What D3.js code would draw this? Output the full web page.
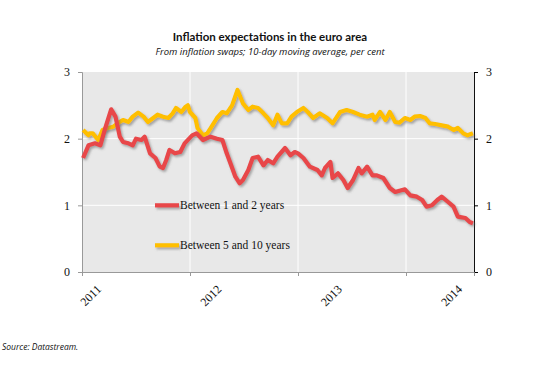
<!DOCTYPE html>
<html>
<head>
<meta charset="utf-8">
<script src="https://cdn.jsdelivr.net/npm/d3@7"></script>
<style>
  body { margin: 0; background: #fff; }
  svg { display: block; }
  .title { font-family: Lato, "Open Sans", sans-serif; font-weight: bold; font-size: 11.5px; fill: #111; }
  .subtitle { font-family: "Open Sans", "Liberation Sans", sans-serif; font-style: italic; font-size: 9.5px; fill: #111; }
  .tick-lbl { font-family: "Liberation Serif", "DejaVu Serif", serif; font-size: 12px; fill: #111; }
  .legend { font-family: "Liberation Serif", "DejaVu Serif", serif; font-size: 11.5px; fill: #111; }
  .source { font-family: "Open Sans", "Liberation Sans", sans-serif; font-style: italic; font-size: 8.5px; fill: #111; }
</style>
</head>
<body>
<div id="chart"></div>
<script>
// 数据：十进制年份与百分比
const seriesNames = ["Between 1 and 2 years", "Between 5 and 10 years"];
const seriesColors = ["#e8474a", "#ffbf00"];
const years = [2011, 2012, 2013, 2014];
const yTicks = [0, 1, 2, 3];

const short = [
  [2011.01,1.71],[2011.06,1.90],[2011.12,1.93],[2011.17,1.90],[2011.21,2.13],[2011.27,2.44],
  [2011.31,2.33],[2011.35,2.03],[2011.38,1.95],[2011.43,1.93],[2011.47,1.90],[2011.50,2.00],
  [2011.55,1.98],[2011.58,2.03],[2011.63,1.78],[2011.68,1.71],[2011.72,1.58],[2011.75,1.56],
  [2011.78,1.68],[2011.81,1.83],[2011.86,1.78],[2011.91,1.80],[2011.95,1.93],[2012.02,2.05],
  [2012.06,2.08],[2012.12,1.98],[2012.19,2.03],[2012.25,2.00],[2012.30,1.98],[2012.34,1.78],
  [2012.37,1.65],[2012.42,1.43],[2012.46,1.33],[2012.49,1.38],[2012.54,1.53],[2012.58,1.71],
  [2012.63,1.73],[2012.68,1.60],[2012.72,1.68],[2012.77,1.63],[2012.81,1.73],[2012.88,1.86],
  [2012.93,1.75],[2012.97,1.80],[2013.00,1.78],[2013.05,1.71],[2013.11,1.58],[2013.18,1.53],
  [2013.22,1.45],[2013.25,1.56],[2013.30,1.65],[2013.32,1.41],[2013.37,1.48],[2013.42,1.38],
  [2013.46,1.26],[2013.51,1.38],[2013.56,1.56],[2013.59,1.48],[2013.64,1.58],[2013.69,1.45],
  [2013.73,1.45],[2013.79,1.41],[2013.85,1.26],[2013.90,1.20],[2013.94,1.22],[2013.99,1.24],
  [2014.04,1.15],[2014.10,1.13],[2014.15,1.08],[2014.19,0.98],[2014.24,1.00],[2014.29,1.08],
  [2014.33,1.13],[2014.39,1.05],[2014.44,0.98],[2014.48,0.83],[2014.55,0.81],[2014.59,0.75],
  [2014.62,0.73]
];

const long = [
  [2011.01,2.13],[2011.06,2.05],[2011.07,2.08],[2011.10,2.08],[2011.15,1.98],[2011.19,2.13],
  [2011.24,2.16],[2011.29,2.18],[2011.33,2.23],[2011.38,2.28],[2011.43,2.25],[2011.47,2.33],
  [2011.52,2.39],[2011.57,2.33],[2011.61,2.25],[2011.66,2.31],[2011.70,2.36],[2011.75,2.33],
  [2011.80,2.31],[2011.84,2.38],[2011.87,2.46],[2011.92,2.40],[2011.96,2.48],[2011.98,2.50],
  [2012.00,2.40],[2012.05,2.31],[2012.07,2.16],[2012.12,2.05],[2012.16,2.08],[2012.20,2.18],
  [2012.25,2.31],[2012.30,2.40],[2012.34,2.38],[2012.39,2.50],[2012.44,2.73],[2012.46,2.65],
  [2012.49,2.53],[2012.54,2.43],[2012.58,2.48],[2012.63,2.46],[2012.68,2.38],[2012.72,2.31],
  [2012.77,2.20],[2012.81,2.36],[2012.85,2.23],[2012.90,2.23],[2012.94,2.33],[2012.99,2.40],
  [2013.05,2.46],[2013.09,2.40],[2013.14,2.31],[2013.20,2.38],[2013.27,2.31],[2013.32,2.23],
  [2013.39,2.40],[2013.45,2.43],[2013.51,2.40],[2013.57,2.36],[2013.64,2.33],[2013.69,2.36],
  [2013.71,2.28],[2013.76,2.40],[2013.81,2.28],[2013.85,2.40],[2013.90,2.25],[2013.94,2.24],
  [2013.99,2.31],[2014.04,2.28],[2014.08,2.33],[2014.13,2.34],[2014.18,2.31],[2014.22,2.23],
  [2014.27,2.22],[2014.33,2.20],[2014.39,2.18],[2014.44,2.13],[2014.48,2.16],[2014.53,2.08],
  [2014.57,2.05],[2014.62,2.08]
];

const W = 539, H = 366;
const plot = { left: 82, right: 474, top: 72, bottom: 272 };

const svg = d3.select("#chart").append("svg").attr("width", W).attr("height", H);

// 阴影滤镜（用户坐标，避免水平线包围盒为零）
const defs = svg.append("defs");
defs.append("filter").attr("id", "shadow")
  .attr("filterUnits", "userSpaceOnUse")
  .attr("x", 0).attr("y", 0).attr("width", W).attr("height", H)
  .append("feDropShadow")
  .attr("dx", 1.5).attr("dy", 1.8).attr("stdDeviation", 0.9)
  .attr("flood-color", "#666").attr("flood-opacity", 0.55);

const x = d3.scaleLinear().domain([2011, 2011 + 392 / 108]).range([plot.left, plot.right]);
const y = d3.scaleLinear().domain([0, 3]).range([plot.bottom, plot.top]);

// 标题
svg.append("text").attr("class", "title").attr("x", 270).attr("y", 41)
  .attr("text-anchor", "middle").text("Inflation expectations in the euro area");
svg.append("text").attr("class", "subtitle").attr("x", 270).attr("y", 55)
  .attr("text-anchor", "middle").text("From inflation swaps; 10-day moving average, per cent");

// 背景
svg.append("rect")
  .attr("x", plot.left).attr("y", plot.top)
  .attr("width", plot.right - plot.left).attr("height", plot.bottom - plot.top)
  .attr("fill", "#e8e8e8");

// 网格
svg.append("g").selectAll("line").data(yTicks.slice(1, 3)).join("line")
  .attr("x1", plot.left).attr("x2", plot.right)
  .attr("y1", (d) => y(d)).attr("y2", (d) => y(d))
  .attr("stroke", "#fff").attr("stroke-width", 1);
svg.append("g").selectAll("line").data(years.slice(1)).join("line")
  .attr("x1", (d) => x(d)).attr("x2", (d) => x(d))
  .attr("y1", plot.top).attr("y2", plot.bottom)
  .attr("stroke", "#fff").attr("stroke-width", 1);

// 坐标轴
const left = svg.append("g").attr("transform", `translate(${plot.left},0)`)
  .call(d3.axisLeft(y).tickValues(yTicks).tickFormat(d3.format("d")).tickSize(4).tickPadding(8));
left.select(".domain").attr("stroke", "#999");
left.selectAll(".tick line").attr("stroke", "#999");
left.selectAll("text").attr("class", "tick-lbl").attr("font-family", null).attr("font-size", null);

const right = svg.append("g").attr("transform", `translate(${plot.right},0)`)
  .call(d3.axisRight(y).tickValues(yTicks).tickFormat(d3.format("d")).tickSize(4).tickPadding(8));
right.select(".domain").attr("stroke", "#111");
right.selectAll("text").attr("class", "tick-lbl").attr("font-family", null).attr("font-size", null);

const bottom = svg.append("g").attr("transform", `translate(0,${plot.bottom})`)
  .call(d3.axisBottom(x).tickValues(years).tickFormat("").tickSizeOuter(0).tickSize(4));
bottom.select(".domain").attr("stroke", "#999");
bottom.selectAll(".tick line").attr("stroke", "#999");

// 年份标签（参考图中标签间距略大于刻度间距）
const xLabel = d3.scaleLinear().domain([2011, 2014]).range([x(2011) + 20, x(2014) + 57]);
svg.append("g").selectAll("text").data(years).join("text")
  .attr("class", "tick-lbl")
  .attr("text-anchor", "end")
  .attr("transform", (d) => `translate(${xLabel(d)},${plot.bottom + 18}) rotate(-45)`)
  .text((d) => d);

// 折线
const line = d3.line().x((d) => x(d[0])).y((d) => y(d[1])).curve(d3.curveLinear);
[long, short].forEach((data, i) => {
  svg.append("path").datum(data)
    .attr("d", line)
    .attr("fill", "none")
    .attr("stroke", seriesColors[1 - i])
    .attr("stroke-width", 4.2)
    .attr("stroke-linejoin", "round")
    .attr("filter", "url(#shadow)");
});

// 图例
const legend = svg.append("g");
const legendY = [y(1), y(0.4)];
seriesNames.forEach((name, i) => {
  legend.append("line")
    .attr("x1", 155).attr("x2", 179)
    .attr("y1", legendY[i]).attr("y2", legendY[i])
    .attr("stroke", seriesColors[i]).attr("stroke-width", 4.2)
    .attr("filter", "url(#shadow)");
  legend.append("text").attr("class", "legend")
    .attr("x", 180).attr("y", legendY[i] + 4)
    .text(name);
});

// 来源
svg.append("text").attr("class", "source").attr("x", 2).attr("y", 350)
  .text("Source: Datastream.");
</script>
</body>
</html>
